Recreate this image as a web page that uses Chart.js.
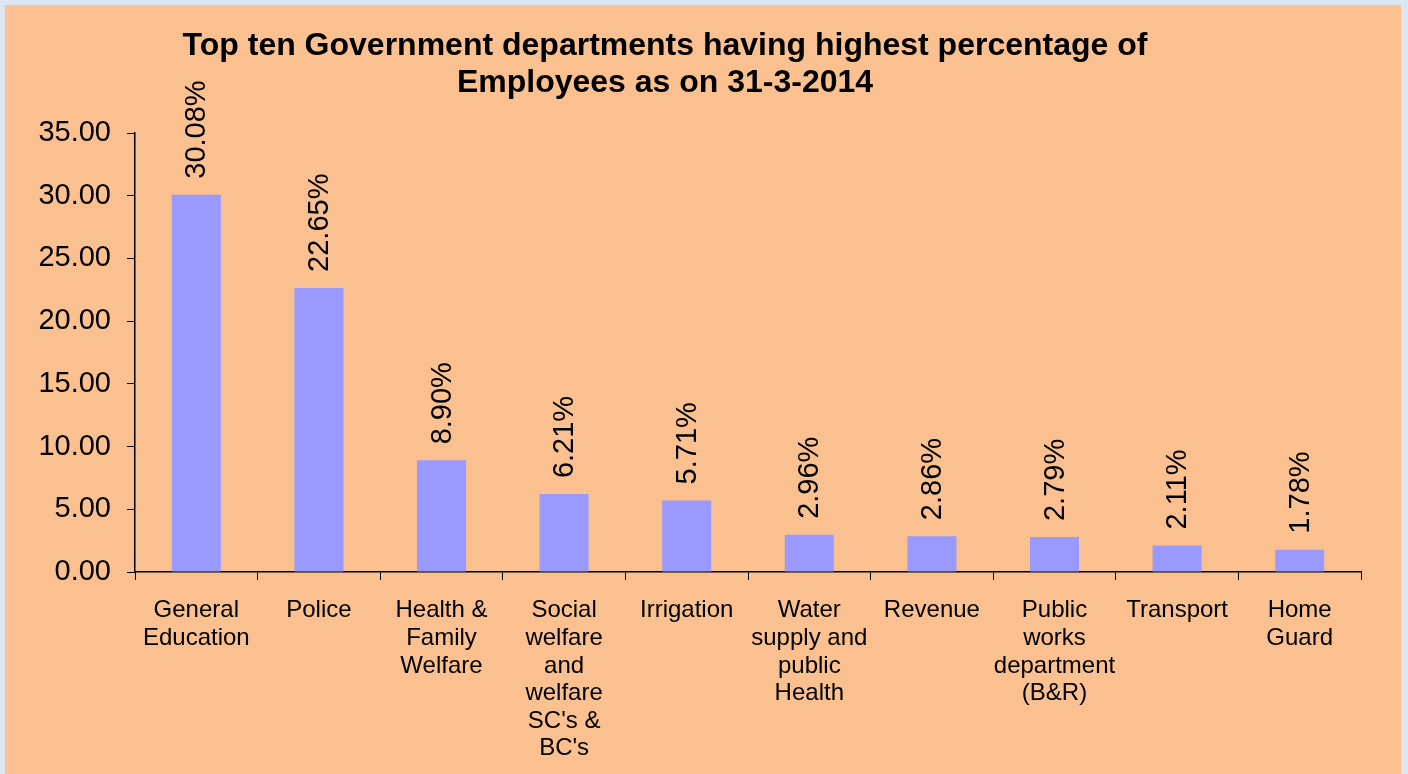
<!DOCTYPE html>
<html>
<head>
<meta charset="utf-8">
<script src="https://cdn.jsdelivr.net/npm/chart.js@4/dist/chart.umd.min.js"></script>
<style>
  html, body { margin: 0; padding: 0; width: 1408px; height: 774px; overflow: hidden; background: #DCE6F2; }
  #panel { position: absolute; left: 5px; top: 5px; width: 1396px; height: 769px; background: #FAC090; }
  #wrap { position: absolute; left: 0; top: 0; width: 1408px; height: 774px; }
  #title { position: absolute; left: 0; top: 26px; width: 1330px; text-align: center;
           font: bold 32px "Liberation Sans", Arial, sans-serif; line-height: 37px; color: #000; }
</style>
</head>
<body>
<div id="panel"></div>
<div id="wrap"><canvas id="c" width="1408" height="774"></canvas></div>
<div id="title">Top ten Government departments having highest percentage of<br>Employees as on 31-3-2014</div>
<script>
const categories = [
  ["General", "Education"],
  ["Police"],
  ["Health &", "Family", "Welfare"],
  ["Social", "welfare", "and", "welfare", "SC's &", "BC's"],
  ["Irrigation"],
  ["Water", "supply and", "public", "Health"],
  ["Revenue"],
  ["Public", "works", "department", "(B&R)"],
  ["Transport"],
  ["Home", "Guard"]
];
const percentages = [30.08, 22.65, 8.90, 6.21, 5.71, 2.96, 2.86, 2.79, 2.11, 1.78];
const yMin = 0, yMax = 35, yStep = 5;

const valueLabels = {
  id: 'valueLabels',
  afterDatasetsDraw(chart) {
    const ctx = chart.ctx;
    const meta = chart.getDatasetMeta(0);
    ctx.save();
    ctx.fillStyle = '#000';
    ctx.font = '29px "Liberation Sans", Arial, sans-serif';
    ctx.textAlign = 'left';
    ctx.textBaseline = 'middle';
    meta.data.forEach((bar, i) => {
      ctx.save();
      ctx.translate(bar.x + 1, bar.y - 16);
      ctx.rotate(-Math.PI / 2);
      ctx.fillText(percentages[i].toFixed(2) + '%', 0, 0);
      ctx.restore();
    });
    ctx.restore();
  }
};

new Chart(document.getElementById('c'), {
  type: 'bar',
  data: {
    labels: categories,
    datasets: [{
      data: percentages,
      backgroundColor: '#9999FF',
      borderWidth: 0,
      barPercentage: 0.4,
      categoryPercentage: 1.0
    }]
  },
  options: {
    responsive: false,
    animation: false,
    devicePixelRatio: 1,
    layout: { padding: { top: 133, right: 47, left: 0, bottom: 0 } },
    plugins: { legend: { display: false }, tooltip: { enabled: false }, title: { display: false } },
    scales: {
      x: {
        grid: { drawOnChartArea: false, drawTicks: true, tickLength: 8, color: '#000', offset: true },
        border: { color: '#000', width: 1.5 },
        ticks: {
          color: '#000', autoSkip: false, maxRotation: 0, minRotation: 0, padding: 17,
          font: { family: '"Liberation Sans", Arial, sans-serif', size: 24, lineHeight: 1.15 }
        },
        afterFit(scale) { scale.height = 202; }
      },
      y: {
        min: yMin, max: yMax,
        grid: { drawOnChartArea: false, drawTicks: true, tickLength: 8, color: '#000' },
        border: { color: '#000', width: 1.5 },
        ticks: {
          stepSize: yStep, color: '#000', padding: 16,
          font: { family: '"Liberation Sans", Arial, sans-serif', size: 29 },
          callback: v => v.toFixed(2)
        },
        afterFit(scale) { scale.width = 135; }
      }
    }
  },
  plugins: [valueLabels]
});
</script>
</body>
</html>
